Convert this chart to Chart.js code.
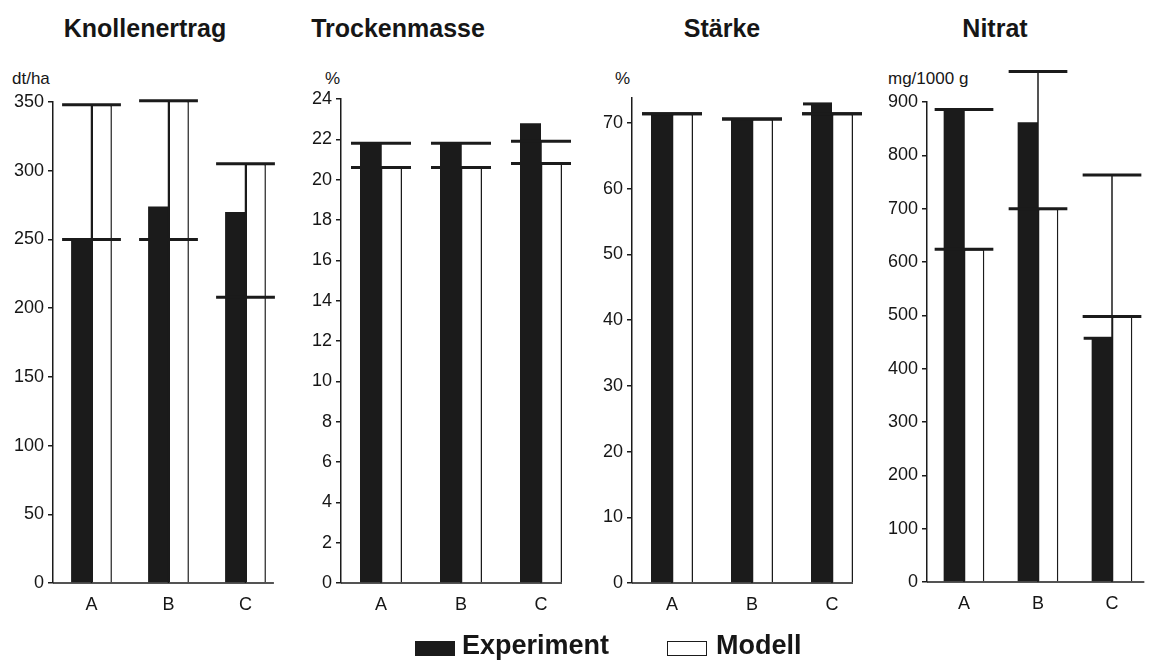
<!DOCTYPE html>
<html>
<head>
<meta charset="utf-8">
<script src="https://cdn.jsdelivr.net/npm/chart.js@4"></script>
<style>
  body {
    margin: 0;
    width: 1149px;
    height: 660px;
    position: relative;
    overflow: hidden;
    background: #fff;
    color: #161616;
    font-family: "Liberation Sans", Arial, sans-serif;
  }
  .panel { position: absolute; top: 0; height: 660px; }
  .title {
    position: absolute;
    top: 16px;
    font-size: 25px;
    line-height: 25px;
    font-weight: bold;
    white-space: nowrap;
    transform: translateX(-50%);
  }
  .unit { position: absolute; top: 70px; font-size: 17px; line-height: 17px; white-space: nowrap; }
  .legend-box { position: absolute; top: 641px; width: 40px; height: 15px; box-sizing: border-box; }
  .legend-text { position: absolute; top: 632px; font-size: 27px; line-height: 27px; font-weight: bold; }
</style>
</head>
<body>

<div class="title" style="left:145px">Knollenertrag</div>
<div class="title" style="left:398px">Trockenmasse</div>
<div class="title" style="left:722px">Stärke</div>
<div class="title" style="left:995px">Nitrat</div>

<div class="unit" style="left:12px">dt/ha</div>
<div class="unit" style="left:325px">%</div>
<div class="unit" style="left:615px">%</div>
<div class="unit" style="left:888px">mg/1000 g</div>

<div class="panel" style="left:0px;width:290px"><canvas id="c0" width="290" height="660"></canvas></div>
<div class="panel" style="left:290px;width:295px"><canvas id="c1" width="295" height="660"></canvas></div>
<div class="panel" style="left:585px;width:290px"><canvas id="c2" width="290" height="660"></canvas></div>
<div class="panel" style="left:875px;width:274px"><canvas id="c3" width="274" height="660"></canvas></div>

<div class="legend-box" style="left:415px;background:#1b1b1b"></div>
<div class="legend-text" style="left:462px">Experiment</div>
<div class="legend-box" style="left:667px;background:#fff;border:1.5px solid #1b1b1b"></div>
<div class="legend-text" style="left:716px">Modell</div>

<script>
const categories = ["A", "B", "C"];

// Knollenertrag (dt/ha)
const knollenExperiment = [250, 274, 270];
const knollenModell = [348, 351, 305];
const knollenLow = [250, 250, 208];
const knollenHigh = [348, 351, 305];
const knollenCapExp = [false, false, false];
const knollenTicks = [0, 50, 100, 150, 200, 250, 300, 350];

// Trockenmasse (%)
const trockenExperiment = [21.8, 21.8, 22.8];
const trockenModell = [20.6, 20.6, 20.8];
const trockenLow = [20.6, 20.6, 20.8];
const trockenHigh = [21.8, 21.8, 21.9];
const trockenCapExp = [false, false, false];
const trockenTicks = [0, 2, 4, 6, 8, 10, 12, 14, 16, 18, 20, 22, 24];

// Stärke (%)
const staerkeExperiment = [71.4, 70.6, 72.9];
const staerkeModell = [71.4, 70.6, 71.4];
const staerkeLow = [71.4, 70.6, 71.4];
const staerkeHigh = [71.4, 70.6, 71.4];
const staerkeCapExp = [false, false, true];
const staerkeTicks = [0, 10, 20, 30, 40, 50, 60, 70];

// Nitrat (mg/1000 g)
const nitratExperiment = [886, 862, 457];
const nitratModell = [624, 700, 498];
const nitratLow = [624, 700, 498];
const nitratHigh = [886, 957, 763];
const nitratCapExp = [false, false, true];
const nitratTicks = [0, 100, 200, 300, 400, 500, 600, 700, 800, 900];

const INK = "#1b1b1b";

Chart.defaults.font.family = '"Liberation Sans", Arial, sans-serif';
Chart.defaults.color = "#161616";

// horizontal marks across each bar pair, whisker at the pair boundary, and the x baseline
const rangeMarks = {
  id: "rangeMarks",
  afterDatasetsDraw(chart, args, opts) {
    const ctx = chart.ctx;
    const y = chart.scales.y;
    const expBars = chart.getDatasetMeta(0).data;
    const modBars = chart.getDatasetMeta(1).data;
    const expData = chart.data.datasets[0].data;
    ctx.save();
    ctx.strokeStyle = INK;
    expBars.forEach((eb, i) => {
      const mb = modBars[i];
      const left = eb.x - eb.width / 2;
      const mid = eb.x + eb.width / 2;
      const right = mb.x + mb.width / 2;

      ctx.lineWidth = 1.5;
      ctx.beginPath();
      ctx.moveTo(mid, y.getPixelForValue(0));
      ctx.lineTo(mid, y.getPixelForValue(opts.high[i]));
      ctx.stroke();

      ctx.lineWidth = 3;
      [opts.low[i], opts.high[i]].forEach((v) => {
        const py = y.getPixelForValue(v);
        ctx.beginPath();
        ctx.moveTo(left - 9, py);
        ctx.lineTo(right + 9, py);
        ctx.stroke();
      });

      if (opts.capExp[i]) {
        const py = y.getPixelForValue(expData[i]);
        ctx.beginPath();
        ctx.moveTo(left - 8, py);
        ctx.lineTo(mid, py);
        ctx.stroke();
      }
    });

    const last = modBars[modBars.length - 1];
    const by = y.getPixelForValue(0);
    ctx.lineWidth = 1.5;
    ctx.beginPath();
    ctx.moveTo(chart.chartArea.left, by);
    ctx.lineTo(last.x + last.width / 2 + opts.axisTail, by);
    ctx.stroke();
    ctx.restore();
  },
};

const panels = [
  { id: "c0", exp: knollenExperiment, mod: knollenModell, low: knollenLow, high: knollenHigh,
    capExp: knollenCapExp, ticks: knollenTicks, max: 350,
    axisWidth: 53, top: 102, bottom: 583, padRight: 6, catPct: 0.53, axisTail: 8 },
  { id: "c1", exp: trockenExperiment, mod: trockenModell, low: trockenLow, high: trockenHigh,
    capExp: trockenCapExp, ticks: trockenTicks, max: 24,
    axisWidth: 51, top: 99, bottom: 583, padRight: 4, catPct: 0.525, axisTail: 0 },
  { id: "c2", exp: staerkeExperiment, mod: staerkeModell, low: staerkeLow, high: staerkeHigh,
    capExp: staerkeCapExp, ticks: staerkeTicks, max: 73.8,
    axisWidth: 47, top: 98, bottom: 583, padRight: 3, catPct: 0.525, axisTail: 0 },
  { id: "c3", exp: nitratExperiment, mod: nitratModell, low: nitratLow, high: nitratHigh,
    capExp: nitratCapExp, ticks: nitratTicks, max: 900,
    axisWidth: 52, top: 102, bottom: 582, padRight: 0, catPct: 0.55, axisTail: 12 },
];

panels.forEach((p) => {
  new Chart(document.getElementById(p.id), {
    type: "bar",
    data: {
      labels: categories,
      datasets: [
        {
          label: "Experiment",
          data: p.exp,
          backgroundColor: INK,
          borderWidth: 0,
          categoryPercentage: p.catPct,
          barPercentage: 1,
        },
        {
          label: "Modell",
          data: p.mod,
          backgroundColor: "#fff",
          borderColor: INK,
          borderWidth: 1.5,
          borderSkipped: "start",
          categoryPercentage: p.catPct,
          barPercentage: 1,
        },
      ],
    },
    options: {
      responsive: false,
      animation: false,
      layout: { padding: { top: p.top, right: p.padRight, left: 0, bottom: 0 } },
      plugins: {
        legend: { display: false },
        tooltip: { enabled: false },
        rangeMarks: { low: p.low, high: p.high, capExp: p.capExp, axisTail: p.axisTail },
      },
      scales: {
        x: {
          grid: { display: false },
          border: { display: false },
          ticks: { font: { size: 18 }, padding: 3, color: "#161616" },
          afterFit: (scale) => { scale.height = 660 - p.bottom; },
        },
        y: {
          min: 0,
          max: p.max,
          grid: { drawOnChartArea: false, drawTicks: true, tickLength: 5, color: INK, lineWidth: 1.5 },
          border: { display: true, color: INK, width: 1.5 },
          ticks: { font: { size: 18 }, padding: 4, color: "#161616" },
          afterBuildTicks: (scale) => { scale.ticks = p.ticks.map((v) => ({ value: v })); },
          afterFit: (scale) => { scale.width = p.axisWidth; },
        },
      },
    },
    plugins: [rangeMarks],
  });
});
</script>
</body>
</html>
